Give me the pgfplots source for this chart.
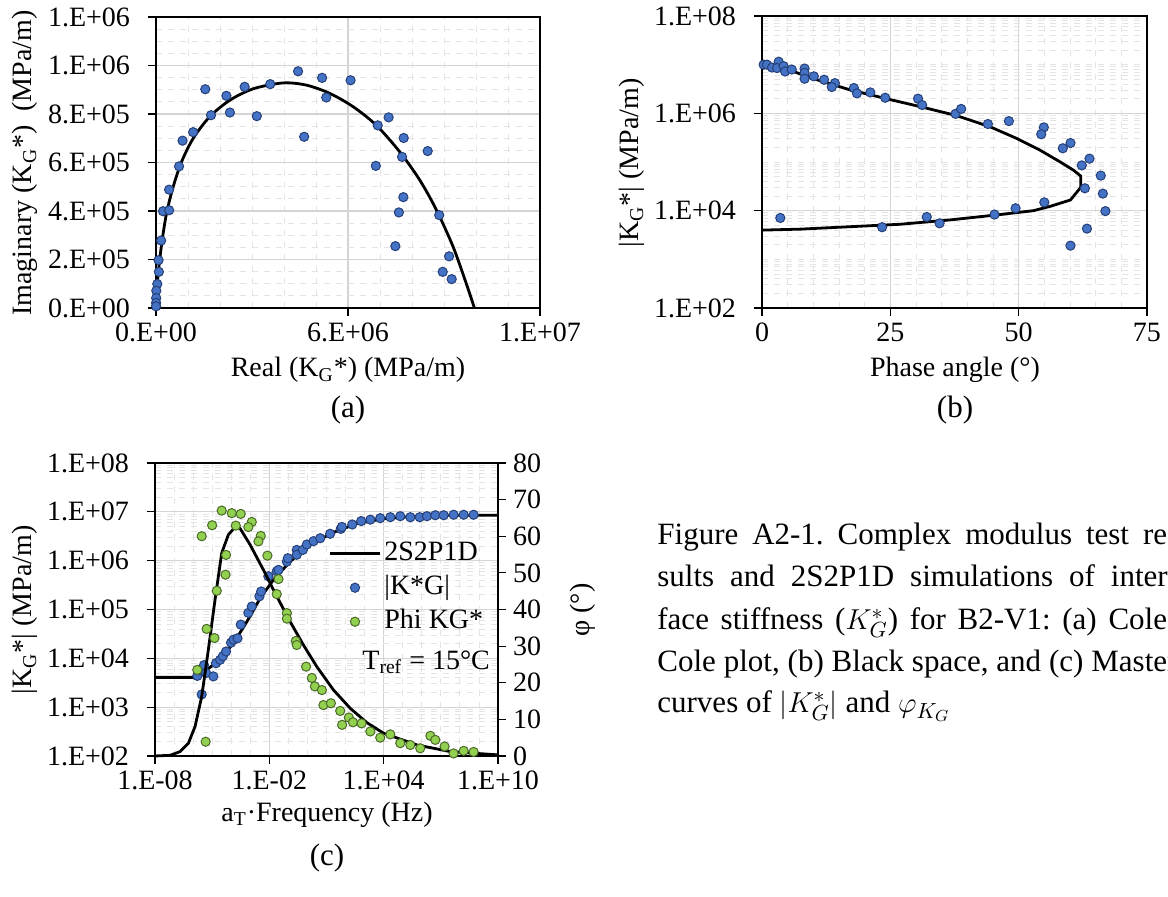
\documentclass[border=0pt]{standalone}
\usepackage{fontspec}
\setmainfont{Liberation Serif}
\usepackage{pgfplots}
\pgfplotsset{compat=1.18}

\definecolor{kblue}{RGB}{68,114,196}
\definecolor{kblueedge}{RGB}{37,64,120}
\definecolor{kgreen}{RGB}{146,208,80}
\definecolor{kgreenedge}{RGB}{75,105,40}
\definecolor{gridmaj}{RGB}{212,212,212}
\definecolor{gridmin}{RGB}{228,228,228}

\newcommand\cf{\fontsize{14}{16}\selectfont}
\newcommand\capf{\fontsize{15.5}{18}\selectfont}
\frenchspacing

\pgfplotsset{
  xl/.style={
    scale only axis, anchor=south west,
    tick label style={font=\cf},
    yticklabel style={xshift=-5.5pt},
    tick align=outside, tick pos=left,
    major tick length=4pt, minor tick length=0pt,
    major tick style={black, line width=0.6pt},
    axis line style={black, line width=0.9pt},
    grid=both,
    major grid style={gridmaj, line width=0.6pt},
    minor grid style={gridmin, dashed, line width=0.4pt},
    scaled ticks=false,
    clip=false,
  },
  blue pts/.style={only marks, mark=*, mark size=2.3pt,
    mark options={fill=kblue, draw=kblueedge, line width=0.5pt}},
  green pts/.style={only marks, mark=*, mark size=2.3pt,
    mark options={fill=kgreen, draw=kgreenedge, line width=0.5pt}},
  model/.style={black, line width=1.4pt, no marks},
  linelegend/.style={legend image code/.code={\draw[##1] (0pt,0pt) -- (25pt,0pt);}},
  marklegend/.style={legend image code/.code={%
    \draw[mark repeat=2, mark phase=2, ##1] plot coordinates {(0pt,0pt) (12.5pt,0pt) (25pt,0pt)};}},
}

\begin{document}
\begin{tikzpicture}
\useasboundingbox (0,0) rectangle (584pt,448.5pt);

% (a) Cole-Cole
\begin{axis}[xl, at={(78pt,294.5pt)}, width=192pt, height=145.5pt,
  xmin=0, xmax=1.2e7, ymin=0, ymax=1.2e6,
  xtick={0,6e6,1.2e7}, xticklabels={0.E+00,6.E+06,1.E+07},
  ytick={0,200000,400000,600000,800000,1000000,1200000},
  yticklabels={0.E+00,2.E+05,4.E+05,6.E+05,8.E+05,1.E+06,1.E+06},
  minor x tick num=5, minor y tick num=3]
\addplot[model, smooth] coordinates {
(0,0) (0.06e6,1.30e5) (0.18e6,2.67e5) (0.33e6,3.91e5) (0.54e6,5.01e5)
(0.80e6,6.03e5) (1.16e6,6.99e5) (1.68e6,7.89e5) (2.31e6,8.57e5)
(3.04e6,9.04e5) (3.97e6,9.28e5) (4.70e6,9.19e5) (5.43e6,8.85e5)
(6.16e6,8.30e5) (6.88e6,7.54e5) (7.61e6,6.45e5) (8.24e6,5.28e5)
(8.76e6,4.05e5) (9.28e6,2.54e5) (9.69e6,1.03e5) (9.95e6,0)};
\addplot[blue pts] coordinates {
(4.44e6,9.76e5) (5.19e6,9.49e5) (6.08e6,9.39e5) (1.54e6,9.02e5)
(2.20e6,8.75e5) (2.77e6,9.12e5) (3.57e6,9.23e5) (5.32e6,8.68e5)
(1.72e6,7.95e5) (2.31e6,8.06e5) (3.15e6,7.91e5) (7.27e6,7.86e5)
(6.93e6,7.53e5) (1.16e6,7.25e5) (0.83e6,6.90e5) (4.63e6,7.06e5)
(7.74e6,7.01e5) (8.49e6,6.47e5) (7.69e6,6.23e5) (0.72e6,5.84e5)
(6.87e6,5.86e5) (0.41e6,4.88e5) (7.73e6,4.57e5) (0.22e6,3.99e5)
(0.41e6,4.03e5) (7.59e6,3.94e5) (8.85e6,3.83e5) (0.16e6,2.78e5)
(7.48e6,2.55e5) (0.08e6,1.97e5) (9.16e6,2.13e5) (0.09e6,1.49e5)
(8.96e6,1.49e5) (9.24e6,1.19e5) (0.04e6,0.99e5) (0.01e6,0.71e5)
(0.005e6,0.41e5) (0.003e6,0.21e5) (0.002e6,0.07e5)};
\end{axis}

% (b) Black space
\begin{axis}[xl, at={(381pt,294.5pt)}, width=192.5pt, height=146pt,
  ymode=log, xmin=0, xmax=75, ymin=1e2, ymax=1e8,
  xtick={0,25,50,75}, xticklabels={0,25,50,75},
  ytick={1e2,1e4,1e6,1e8}, yticklabels={1.E+02,1.E+04,1.E+06,1.E+08},
  minor x tick num=4,
  minor ytick={2e2,3e2,4e2,5e2,6e2,7e2,8e2,9e2,1e3,2e3,3e3,4e3,5e3,6e3,7e3,8e3,9e3,
    2e4,3e4,4e4,5e4,6e4,7e4,8e4,9e4,1e5,2e5,3e5,4e5,5e5,6e5,7e5,8e5,9e5,
    2e6,3e6,4e6,5e6,6e6,7e6,8e6,9e6,1e7,2e7,3e7,4e7,5e7,6e7,7e7,8e7,9e7}]
\addplot[model] coordinates {
(0,1.02e7) (4.2,8.51e6) (10.7,4.90e6) (17.2,3.02e6) (25.0,1.91e6)
(31.5,1.32e6) (38.0,8.91e5) (44.5,5.25e5) (49.7,3.02e5) (54.2,1.74e5)
(58.1,1.00e5) (60.7,6.76e4) (62.1,5.13e4) (62.1,3.02e4) (60.1,1.66e4)
(56.2,1.23e4) (52.9,1.00e4) (46.4,8.32e3) (36.7,6.46e3) (26.9,5.25e3)
(17.2,4.68e3) (7.5,4.17e3) (0,3.98e3)};
\addplot[blue pts] coordinates {
(0.32,1.00e7) (0.97,1.00e7) (1.95,8.71e6) (3.25,1.15e7) (2.92,8.51e6)
(4.2,9.33e6) (4.5,7.24e6) (5.8,7.94e6) (8.3,8.32e6) (8.3,6.76e6)
(8.3,5.13e6) (10.1,5.75e6) (12.1,4.90e6) (14.2,4.17e6) (13.6,3.47e6)
(17.9,3.31e6) (18.5,2.57e6) (21.1,2.69e6) (24.0,2.09e6) (30.4,2.00e6)
(31.2,1.48e6) (37.7,9.77e5) (38.8,1.23e6) (44.0,6.03e5) (48.1,6.92e5)
(54.9,5.13e5) (54.4,3.72e5) (58.6,1.91e5) (60.1,2.45e5) (62.3,8.51e4)
(63.8,1.17e5) (66.0,5.25e4) (62.9,2.88e4) (66.4,2.24e4) (66.9,9.77e3)
(63.3,4.27e3) (60.1,1.91e3) (3.57,7.08e3) (23.4,4.57e3) (32.1,7.41e3)
(34.6,5.50e3) (45.3,8.32e3) (49.4,1.12e4) (55.0,1.48e4)};
\end{axis}

% (c) master curves, norm
\begin{axis}[xl, at={(77.5pt,70.5pt)}, width=171.5pt, height=146.5pt,
  xmode=log, ymode=log, xmin=1e-8, xmax=1e10, ymin=1e2, ymax=1e8,
  xtick={1e-8,1e-2,1e4,1e10}, xticklabels={1.E-08,1.E-02,1.E+04,1.E+10},
  ytick={1e2,1e3,1e4,1e5,1e6,1e7,1e8},
  yticklabels={1.E+02,1.E+03,1.E+04,1.E+05,1.E+06,1.E+07,1.E+08},
  minor xtick={1e-7,1e-6,1e-5,1e-4,1e-3,1e-1,1,10,100,1000,1e5,1e6,1e7,1e8,1e9}]
\addplot[model] coordinates {
(1e-8,4.07e3) (1.02e-6,4.07e3) (5.13e-6,5.75e3) (2.63e-5,9.55e3)
(1.32e-4,2.04e4) (6.61e-4,5.62e4) (3.31e-3,1.70e5) (1.66e-2,4.07e5)
(0.123,9.55e5) (1.38,2.14e6) (23.4,3.80e6) (398,5.75e6) (1e4,7.24e6)
(5.62e5,8.13e6) (3.16e7,8.51e6) (1e10,8.51e6)};
\addplot[blue pts] coordinates {
(1.66e-6,4.37e3) (2.29e-6,5.75e3) (3.72e-6,7.24e3) (4.79e-6,5.01e3)
(1.15e-5,4.27e3) (2.82e-6,1.82e3) (1.58e-5,7.94e3) (2.63e-5,9.33e3)
(3.63e-5,1.10e4) (5.37e-5,1.38e4) (9.77e-5,2.09e4) (1.32e-4,2.40e4)
(2.14e-4,2.57e4) (3.16e-4,4.90e4) (7.94e-4,8.51e4) (1.20e-3,1.15e5)
(3.02e-3,1.86e5) (3.72e-3,2.34e5) (8.91e-3,4.79e5) (2.45e-2,6.03e5)
(3.02e-2,6.46e5) (8.32e-2,9.55e5) (9.33e-2,1.12e6) (0.275,1.66e6)
(0.275,1.32e6) (0.575,1.66e6) (0.933,2.14e6) (2.09,2.51e6) (4.68,2.88e6)
(15.5,3.55e6) (56.2,4.47e6) (64.6,4.90e6) (224,5.50e6) (661,6.46e6)
(2.0e3,6.92e6) (6.61e3,7.41e6) (2.24e4,7.76e6) (7.41e4,8.13e6)
(2.51e5,7.76e6) (7.76e5,7.76e6) (1.86e6,8.13e6) (5.13e6,8.51e6)
(1.41e7,8.51e6) (4.68e7,8.71e6) (1.58e8,8.71e6) (5.25e8,8.71e6)};
\end{axis}

% (c) master curves, phase angle
\begin{axis}[scale only axis, anchor=south west, at={(77.5pt,70.5pt)},
  width=171.5pt, height=146.5pt, clip=false,
  xmode=log, xmin=1e-8, xmax=1e10, ymin=0, ymax=80,
  axis x line=none, axis y line*=right,
  ytick={0,10,20,30,40,50,60,70,80},
  yticklabels={0,10,20,30,40,50,60,70,80},
  tick label style={font=\cf}, tick align=outside,
  major tick length=4pt, minor tick length=0pt,
  major tick style={black, line width=0.6pt},
  axis line style={black, line width=0.9pt},
  legend cell align=left,
  legend style={draw=none, fill=none, font=\cf, at={(0.505,0.748)},
    anchor=north west, inner sep=0pt, row sep=0.5pt,
    nodes={text height=10pt, text depth=3.5pt, inner sep=1.5pt}}]
\addlegendimage{model, linelegend}
\addlegendentry{2S2P1D}
\addlegendimage{blue pts, marklegend}
\addlegendentry{|K*G|}
\addplot[model, forget plot] coordinates {
(1e-8,0) (6.17e-8,0.18) (2.04e-7,1.18) (5.62e-7,3.46) (1.26e-6,8.02)
(2.82e-6,16.2) (6.31e-6,29.0) (1.41e-5,42.6) (3.16e-5,55.4) (7.08e-5,60.4)
(1.58e-4,62.5) (2.95e-4,62.1) (9.77e-4,57.7) (4.90e-3,50.8) (2.45e-2,43.6)
(0.123,36.7) (0.617,30.3) (3.09,24.4) (23.4,18.0) (178,13.0) (1.32e3,9.1)
(1e4,6.2) (5.62e5,3.0) (3.16e7,1.2) (1e10,0.3)};
\addplot[green pts, marklegend] coordinates {
(3.16e-5,67.0) (1.07e-4,66.3) (3.16e-4,66.1) (1.0e-5,63.0) (1.74e-4,62.9)
(1.20e-3,63.9) (7.94e-4,62.5) (2.82e-6,60.0) (3.55e-3,60.1) (2.69e-3,58.6)
(5.37e-5,54.9) (7.94e-3,54.7) (5.01e-5,49.5) (3.02e-2,48.3) (1.74e-5,45.1)
(2.45e-2,44.2) (8.32e-2,39.0) (8.32e-2,37.5) (5.13e-6,34.7) (1.32e-5,32.2)
(0.245,31.4) (0.275,30.3) (1.66e-6,23.5) (0.851,24.4) (1.70,21.3)
(2.45,19.0) (5.75,18.0) (6.92,13.9) (17.0,14.4) (52.5,12.3) (66.1,8.5)
(148,10.5) (245,9.2) (692,8.9) (2.0e3,6.7) (6.61e3,5.0) (2.24e4,5.9)
(7.41e4,3.5) (2.51e5,3.0) (8.32e5,2.1) (2.82e6,5.5) (5.13e6,4.4)
(1.58e7,2.6) (4.68e7,0.7) (1.58e8,1.4) (5.25e8,1.1) (4.57e-6,3.9)};
\addlegendentry{Phi KG*}
\end{axis}

% labels and caption (pixel coordinates of the reference, y from the bottom)
\begin{scope}[x=0.5pt, y=0.5pt]
\node[rotate=90, font=\cf] at (25,{897-163}) {Imaginary (K\textsubscript{G}*)\ \ (MPa/m)};
\node[font=\cf] at (348,{897-370}) {Real (K\textsubscript{G}*) (MPa/m)};
\node[font=\capf] at (348,{897-410}) {(a)};
\node[rotate=90, font=\cf] at (632,{897-163}) {|K\textsubscript{G}*| (MPa/m)};
\node[font=\cf] at (955,{897-370}) {Phase angle (°)};
\node[font=\capf] at (955,{897-410}) {(b)};
\node[rotate=90, font=\cf] at (25,{897-610}) {|K\textsubscript{G}*| (MPa/m)};
\node[rotate=90, font=\cf] at (583,{897-610}) {φ (°)};
\node[font=\cf] at (327,{897-815}) {a\textsubscript{T}·Frequency (Hz)};
\node[font=\capf] at (327,{897-858}) {(c)};
\node[font=\cf, anchor=west, inner sep=0pt] at (362,{897-662}) {T\textsubscript{ref} = 15°C};
\node[font=\capf, anchor=base west, inner sep=0pt] at (657,{897-545})
  {\makebox[260pt][s]{Figure A2-1. Complex modulus test re-}};
\node[font=\capf, anchor=base west, inner sep=0pt] at (657,{897-587})
  {\makebox[260pt][s]{sults and 2S2P1D simulations of inter-}};
\node[font=\capf, anchor=base west, inner sep=0pt] at (657,{897-630})
  {\makebox[260pt][s]{face stiffness ($K_G^*$) for B2-V1: (a) Cole-}};
\node[font=\capf, anchor=base west, inner sep=0pt] at (657,{897-672})
  {\makebox[260pt][s]{Cole plot, (b) Black space, and (c) Master}};
\node[font=\capf, anchor=base west, inner sep=0pt] at (657,{897-713})
  {curves of $|K_G^*|$ and $\varphi_{K_G}$};
\end{scope}
\end{tikzpicture}
\end{document}
